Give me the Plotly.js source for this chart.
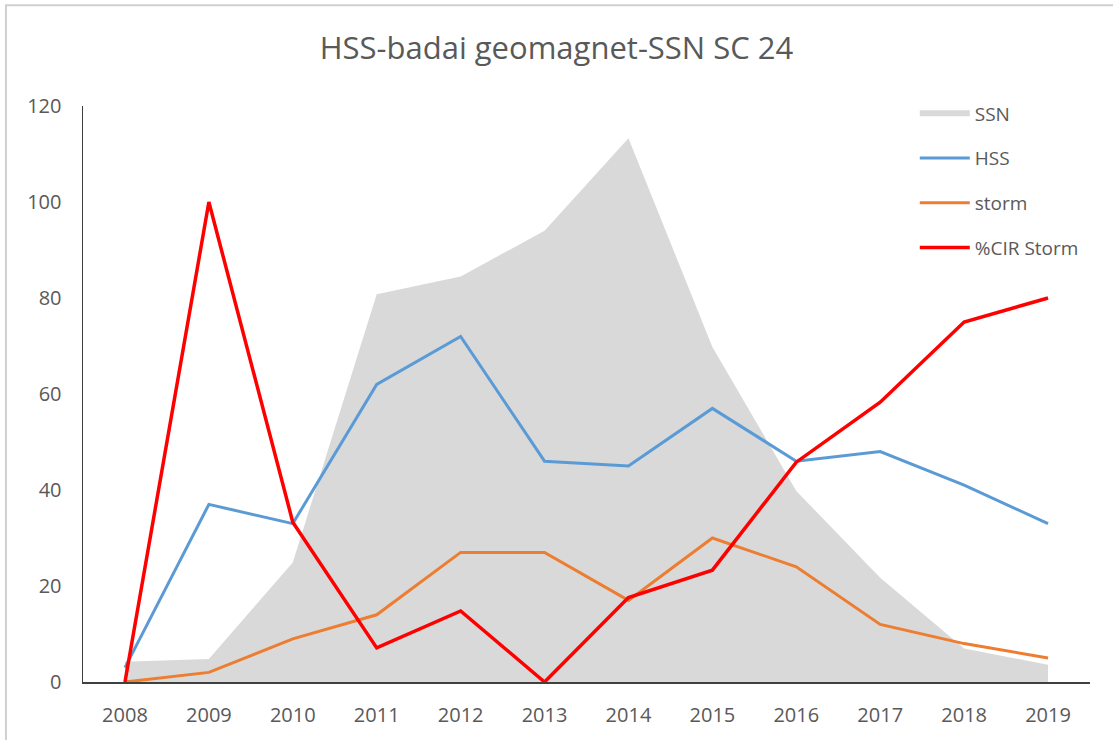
<!DOCTYPE html>
<html>
<head>
<meta charset="utf-8">
<script src="https://cdn.plot.ly/plotly-3.0.1.min.js"></script>
<style>html,body{margin:0;padding:0;background:#fff;}#chart{width:1113px;height:740px;}</style>
</head>
<body>
<div id="chart"></div>
<script>
const years = ['2008','2009','2010','2011','2012','2013','2014','2015','2016','2017','2018','2019'];
const ssn = [4.2, 4.8, 24.9, 80.8, 84.5, 94.0, 113.3, 69.8, 39.8, 21.7, 7.0, 3.6];
const hss = [3, 37, 33, 62, 72, 46, 45, 57, 46, 48, 41, 33];
const storm = [0, 2, 9, 14, 27, 27, 17, 30, 24, 12, 8, 5];
const cirStorm = [0, 100, 33.3, 7.1, 14.8, 0, 17.6, 23.3, 45.8, 58.3, 75, 80];
const yTicks = [0, 20, 40, 60, 80, 100, 120];

const FONT = '"Open Sans", "Liberation Sans", sans-serif';
const traces = [
  {x: years, y: ssn, name: 'SSN', type: 'scatter', mode: 'none', fill: 'tozeroy',
   fillcolor: '#D9D9D9', legendgroup: 'a'},
  {x: years, y: hss, name: 'HSS', type: 'scatter', mode: 'lines',
   line: {color: '#5B9BD5', width: 3}, legendgroup: 'b'},
  {x: years, y: storm, name: 'storm', type: 'scatter', mode: 'lines',
   line: {color: '#ED7D31', width: 3}, legendgroup: 'c'},
  {x: years, y: cirStorm, name: '%CIR Storm', type: 'scatter', mode: 'lines',
   line: {color: '#FF0000', width: 3.5}, legendgroup: 'd'}
];
const layout = {
  width: 1113, height: 740,
  margin: {l: 83, r: 23, t: 106, b: 58},
  paper_bgcolor: '#fff', plot_bgcolor: 'rgba(0,0,0,0)',
  font: {family: FONT, color: '#595959', size: 19},
  title: {text: 'HSS-badai geomagnet-SSN SC 24', font: {family: FONT, size: 31, color: '#595959'},
          x: 0.5, xanchor: 'center', y: 0.935, yanchor: 'middle'},
  showlegend: true,
  legend: {x: 0.826, xanchor: 'left', y: 1.02, yanchor: 'top', bgcolor: 'rgba(0,0,0,0)',
           itemwidth: 50, traceorder: 'grouped', tracegroupgap: 17, font: {size: 19, color: '#595959'}},
  xaxis: {type: 'category', range: [-0.5, 11.5], showgrid: false, zeroline: false,
          showline: true, linecolor: '#404040', linewidth: 1.5, ticks: '',
          ticklabelstandoff: 14, tickfont: {size: 20, color: '#595959'}, fixedrange: true},
  yaxis: {range: [0, 120], tickvals: yTicks, showgrid: false, zeroline: false,
          showline: true, linecolor: '#404040', linewidth: 1.5, ticks: '',
          ticklabelstandoff: 16, tickfont: {size: 20, color: '#595959'}, fixedrange: true},
  shapes: [
    {type: 'rect', xref: 'paper', yref: 'paper', x0: -0.0765, x1: 1.1, y0: -0.2, y1: 1.175,
     line: {color: '#D0D0D0', width: 2}, fillcolor: 'rgba(0,0,0,0)', layer: 'below'}
  ]
};
Plotly.newPlot('chart', traces, layout, {displayModeBar: false, staticPlot: true});
</script>
</body>
</html>
